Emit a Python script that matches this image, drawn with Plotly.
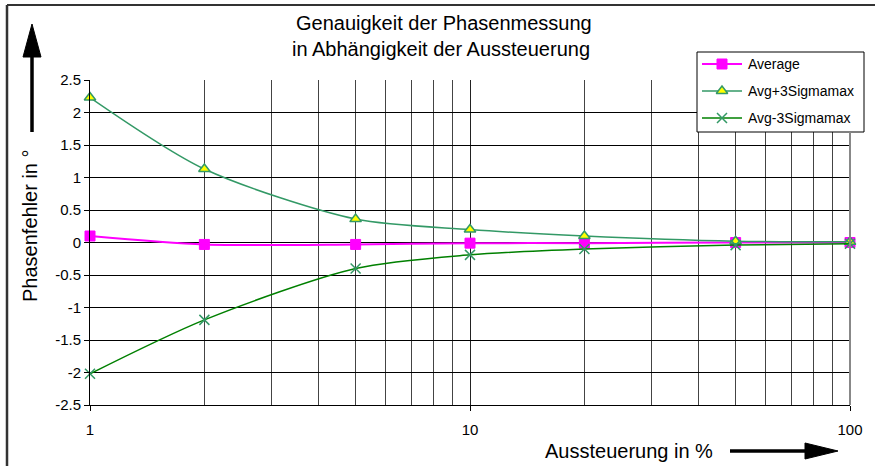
import plotly.graph_objects as go

# ---- data ----
aussteuerung = [1, 2, 5, 10, 20, 50, 100]
average = [0.10, -0.03, -0.03, -0.01, -0.01, 0.00, 0.00]
avg_plus_3sigma = [2.23, 1.13, 0.36, 0.20, 0.10, 0.02, 0.01]
avg_minus_3sigma = [-2.02, -1.19, -0.40, -0.19, -0.10, -0.04, -0.02]
series_names = ["Average", "Avg+3Sigmamax", "Avg-3Sigmamax"]
y_tick_vals = [2.5, 2, 1.5, 1, 0.5, 0, -0.5, -1, -1.5, -2, -2.5]
y_tick_text = ["2.5", "2", "1.5", "1", "0.5", "0", "-0.5", "-1", "-1.5", "-2", "-2.5"]
x_major = [1, 10, 100]
x_minor = [2, 3, 4, 5, 6, 7, 8, 9, 20, 30, 40, 50, 60, 70, 80, 90]

W, H = 875, 466
PL, PR, PT, PB = 90, 850, 80, 405
FONT = "Liberation Sans, Arial, sans-serif"

MAGENTA = "#FF00FF"
SEAGREEN = "#339966"
GREEN = "#008000"

styles = [
    dict(line=dict(color=MAGENTA, width=2),
         marker=dict(symbol="square", size=10, color=MAGENTA, line=dict(color=MAGENTA, width=1))),
    dict(line=dict(color=SEAGREEN, width=1.5),
         marker=dict(symbol="triangle-up", size=10, color="#FFFF00", line=dict(color=SEAGREEN, width=1.5))),
    dict(line=dict(color=GREEN, width=1.5),
         marker=dict(symbol="x-thin", size=10, color=SEAGREEN, line=dict(color=SEAGREEN, width=1.5))),
]

fig = go.Figure()
for name, ys, st in zip(series_names, [average, avg_plus_3sigma, avg_minus_3sigma], styles):
    fig.add_trace(go.Scatter(x=aussteuerung, y=ys, mode="lines+markers", name=name,
                             line=dict(shape="spline", smoothing=0.8, **st["line"]),
                             marker=st["marker"], showlegend=False, xaxis="x", yaxis="y",
                             cliponaxis=False))

# ---- manual legend on a pixel overlay axis ----
leg_y = [64, 91, 118]
for name, yy, st in zip(series_names, leg_y, styles):
    fig.add_trace(go.Scatter(x=[702, 742], y=[yy, yy], mode="lines",
                             line=dict(color=st["line"]["color"], width=st["line"]["width"]),
                             showlegend=False, xaxis="x2", yaxis="y2", hoverinfo="skip"))
    fig.add_trace(go.Scatter(x=[722], y=[yy], mode="markers", marker=st["marker"],
                             showlegend=False, xaxis="x2", yaxis="y2", hoverinfo="skip"))

shapes = [
    # legend box
    dict(type="rect", xref="x2", yref="y2", x0=697, x1=864, y0=52, y1=132,
         line=dict(color="black", width=1), fillcolor="white", layer="below"),
    # right plot border (gray)
    dict(type="line", xref="x2", yref="y2", x0=PR, x1=PR, y0=132, y1=PB,
         line=dict(color="#888888", width=2)),
    # outer frame (left and top)
    dict(type="line", xref="x2", yref="y2", x0=7, x1=7, y0=5, y1=H, line=dict(color="#333333", width=2.5)),
    dict(type="line", xref="x2", yref="y2", x0=7, x1=W, y0=5, y1=5, line=dict(color="#333333", width=2)),
    # up arrow
    dict(type="line", xref="x2", yref="y2", x0=32, x1=32, y0=132, y1=55, line=dict(color="black", width=3.5)),
    dict(type="path", xref="x2", yref="y2", path="M 32 24 L 41 57 L 23 57 Z",
         fillcolor="black", line=dict(color="black", width=1)),
    # right arrow
    dict(type="line", xref="x2", yref="y2", x0=730, x1=808, y0=451, y1=451, line=dict(color="black", width=3.5)),
    dict(type="path", xref="x2", yref="y2", path="M 838 451 L 805 443 L 805 459 Z",
         fillcolor="black", line=dict(color="black", width=1)),
]

annotations = [
    dict(text="Genauigkeit der Phasenmessung", x=444, y=23, xref="x2", yref="y2",
         showarrow=False, font=dict(size=20, color="black", family=FONT), xanchor="center", yanchor="middle"),
    dict(text="in Abhängigkeit der Aussteuerung", x=441, y=49, xref="x2", yref="y2",
         showarrow=False, font=dict(size=20, color="black", family=FONT), xanchor="center", yanchor="middle"),
    dict(text="Phasenfehler in °", x=30, y=226, xref="x2", yref="y2", textangle=-90,
         showarrow=False, font=dict(size=20, color="black", family=FONT), xanchor="center", yanchor="middle"),
    dict(text="Aussteuerung in %", x=629, y=451, xref="x2", yref="y2",
         showarrow=False, font=dict(size=20, color="black", family=FONT), xanchor="center", yanchor="middle"),
]
for name, yy in zip(series_names, leg_y):
    annotations.append(dict(text=name, x=746, y=yy, xref="x2", yref="y2", showarrow=False,
                            font=dict(size=14, color="black", family=FONT), xanchor="left", yanchor="middle"))

fig.update_layout(
    width=W, height=H, autosize=False,
    margin=dict(l=0, r=0, t=0, b=0, pad=0),
    paper_bgcolor="white", plot_bgcolor="rgba(0,0,0,0)",
    font=dict(family=FONT, color="black", size=15),
    showlegend=False,
    xaxis=dict(domain=[PL / W, PR / W], type="log", range=[0, 2], anchor="y",
               tickmode="array", tickvals=x_major, ticktext=[str(v) for v in x_major],
               ticks="outside", ticklen=5, tickcolor="black", tickwidth=1,
               ticklabelstandoff=6,
               showgrid=True, gridcolor="#222222", gridwidth=1,
               showline=True, linecolor="black", linewidth=1, zeroline=False,
               minor=dict(tickmode="array", tickvals=x_minor, showgrid=True,
                          gridcolor="#444444", gridwidth=1, ticks=""),
               tickfont=dict(size=15, family=FONT, color="black"),
               automargin=False, fixedrange=True),
    yaxis=dict(domain=[(H - PB) / H, (H - PT) / H], range=[-2.5, 2.5], anchor="x",
               tickmode="array", tickvals=y_tick_vals, ticktext=y_tick_text,
               ticks="outside", ticklen=5, tickcolor="black", tickwidth=1,
               showgrid=True, gridcolor="black", gridwidth=1,
               showline=True, linecolor="black", linewidth=1, zeroline=False,
               tickfont=dict(size=15, family=FONT, color="black"),
               automargin=False, fixedrange=True),
    xaxis2=dict(domain=[0, 1], range=[0, W], anchor="y2", visible=False, fixedrange=True),
    yaxis2=dict(domain=[0, 1], range=[H, 0], anchor="x2", visible=False, fixedrange=True),
    shapes=shapes,
    annotations=annotations,
)

fig.write_html("out.html", config={"displayModeBar": False},
               post_script="document.body.style.margin='0';document.body.style.overflow='hidden';")
